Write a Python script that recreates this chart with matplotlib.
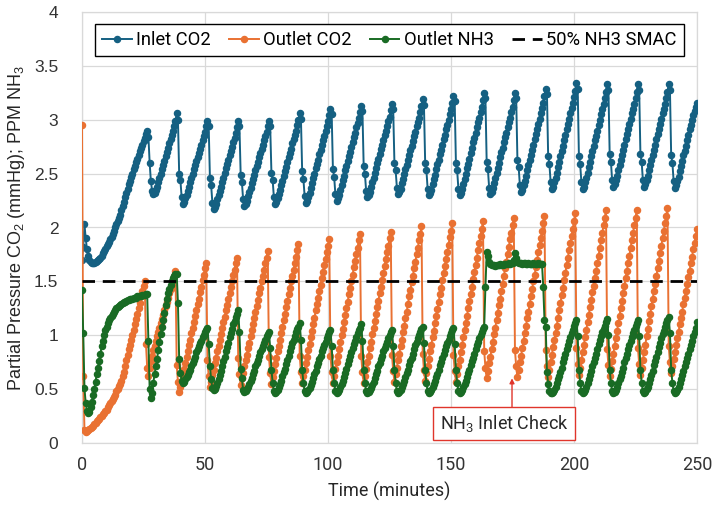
import numpy as np
import matplotlib
matplotlib.use("Agg")
import matplotlib.pyplot as plt
from matplotlib import font_manager

# ---------------- data (sampled every 0.5 minute) ----------------
TIME_STEP_MIN = 0.5

inlet_co2 = [
    1.70, 1.82, 2.03, 1.90, 1.80, 1.74, 1.70, 1.68, 1.67, 1.67,
    1.67, 1.68, 1.69, 1.70, 1.71, 1.72, 1.74, 1.76, 1.78, 1.80,
    1.83, 1.85, 1.87, 1.89, 1.91, 1.94, 1.97, 2.00, 2.03, 2.06,
    2.09, 2.12, 2.16, 2.20, 2.24, 2.28, 2.32, 2.36, 2.40, 2.43,
    2.47, 2.50, 2.54, 2.57, 2.61, 2.64, 2.67, 2.71, 2.74, 2.77,
    2.80, 2.83, 2.87, 2.90,
    2.84, 2.60, 2.43, 2.34, 2.31, 2.32, 2.35, 2.38, 2.42, 2.46, 2.50, 2.54, 2.58, 2.62, 2.66, 2.70, 2.74, 2.78, 2.82, 2.86, 2.90, 2.94, 2.99, 3.06,
    3.00, 2.50, 2.44, 2.28, 2.22, 2.24, 2.27, 2.30, 2.34, 2.38, 2.42, 2.46, 2.50, 2.54, 2.58, 2.62, 2.65, 2.69, 2.73, 2.77, 2.81, 2.85, 2.89, 2.94, 2.99,
    2.94, 2.46, 2.39, 2.23, 2.17, 2.19, 2.22, 2.26, 2.30, 2.34, 2.38, 2.42, 2.46, 2.51, 2.55, 2.59, 2.63, 2.67, 2.71, 2.75, 2.79, 2.83, 2.88, 2.93, 2.99,
    2.94, 2.49, 2.42, 2.26, 2.20, 2.22, 2.25, 2.29, 2.33, 2.37, 2.41, 2.45, 2.49, 2.53, 2.57, 2.61, 2.65, 2.69, 2.73, 2.77, 2.81, 2.85, 2.89, 2.94, 2.99,
    2.94, 2.51, 2.44, 2.28, 2.22, 2.24, 2.27, 2.31, 2.35, 2.39, 2.43, 2.48, 2.52, 2.56, 2.61, 2.65, 2.69, 2.73, 2.78, 2.82, 2.86, 2.90, 2.95, 3.00, 3.06,
    3.01, 2.52, 2.45, 2.29, 2.23, 2.25, 2.28, 2.32, 2.37, 2.41, 2.46, 2.50, 2.55, 2.59, 2.63, 2.68, 2.72, 2.77, 2.81, 2.85, 2.90, 2.94, 2.99, 3.04, 3.10,
    3.05, 2.54, 2.47, 2.31, 2.25, 2.27, 2.30, 2.35, 2.39, 2.44, 2.48, 2.53, 2.57, 2.62, 2.66, 2.70, 2.75, 2.79, 2.84, 2.88, 2.93, 2.97, 3.02, 3.07, 3.13,
    3.08, 2.57, 2.50, 2.34, 2.28, 2.30, 2.33, 2.38, 2.42, 2.46, 2.51, 2.55, 2.60, 2.64, 2.68, 2.73, 2.77, 2.81, 2.86, 2.90, 2.94, 2.99, 3.03, 3.09, 3.15,
    3.10, 2.60, 2.53, 2.37, 2.31, 2.33, 2.36, 2.41, 2.45, 2.50, 2.54, 2.58, 2.63, 2.67, 2.72, 2.76, 2.80, 2.85, 2.89, 2.94, 2.98, 3.02, 3.07, 3.13, 3.19,
    3.14, 2.60, 2.53, 2.36, 2.30, 2.32, 2.35, 2.40, 2.45, 2.49, 2.54, 2.59, 2.63, 2.68, 2.72, 2.77, 2.82, 2.86, 2.91, 2.95, 3.00, 3.05, 3.10, 3.16, 3.22,
    3.17, 2.60, 2.53, 2.36, 2.30, 2.32, 2.36, 2.40, 2.45, 2.50, 2.55, 2.59, 2.64, 2.69, 2.74, 2.79, 2.83, 2.88, 2.93, 2.98, 3.02, 3.07, 3.12, 3.18, 3.25,
    3.20, 2.61, 2.54, 2.37, 2.31, 2.33, 2.37, 2.41, 2.46, 2.51, 2.55, 2.60, 2.65, 2.70, 2.74, 2.79, 2.84, 2.88, 2.93, 2.98, 3.02, 3.07, 3.12, 3.18, 3.25,
    3.20, 2.63, 2.56, 2.39, 2.33, 2.35, 2.39, 2.43, 2.48, 2.53, 2.58, 2.63, 2.67, 2.72, 2.77, 2.82, 2.87, 2.91, 2.96, 3.01, 3.06, 3.11, 3.16, 3.22, 3.29,
    3.24, 2.66, 2.59, 2.42, 2.36, 2.38, 2.42, 2.46, 2.51, 2.56, 2.61, 2.66, 2.71, 2.76, 2.81, 2.86, 2.91, 2.96, 3.01, 3.06, 3.11, 3.16, 3.21, 3.27, 3.34,
    3.29, 2.66, 2.59, 2.42, 2.36, 2.38, 2.42, 2.46, 2.51, 2.56, 2.61, 2.66, 2.71, 2.76, 2.81, 2.85, 2.90, 2.95, 3.00, 3.05, 3.10, 3.15, 3.20, 3.26, 3.33,
    3.28, 2.68, 2.61, 2.44, 2.38, 2.40, 2.44, 2.48, 2.53, 2.58, 2.63, 2.67, 2.72, 2.77, 2.82, 2.87, 2.91, 2.96, 3.01, 3.06, 3.10, 3.15, 3.20, 3.26, 3.33,
    3.28, 2.68, 2.61, 2.44, 2.38, 2.40, 2.44, 2.48, 2.53, 2.58, 2.63, 2.67, 2.72, 2.77, 2.82, 2.87, 2.91, 2.96, 3.01, 3.06, 3.10, 3.15, 3.20, 3.26, 3.33,
    3.28, 2.67, 2.60, 2.43, 2.37, 2.39, 2.43, 2.47, 2.52, 2.57, 2.62, 2.67, 2.71, 2.76, 2.81, 2.86, 2.91, 2.95, 3.00, 3.04, 3.08, 3.12, 3.16,
]

outlet_co2 = [
    2.95, 0.62, 0.12, 0.10, 0.11, 0.12, 0.13, 0.14, 0.15, 0.16,
    0.18, 0.19, 0.20, 0.21, 0.22, 0.24, 0.25, 0.27, 0.28, 0.30,
    0.31, 0.33, 0.35, 0.37, 0.39, 0.41, 0.43, 0.45, 0.48, 0.50,
    0.53, 0.55, 0.58, 0.62, 0.66, 0.71, 0.77, 0.82, 0.87, 0.91,
    0.96, 1.00, 1.05, 1.10, 1.15, 1.20, 1.25, 1.30, 1.36, 1.41,
    1.46, 1.50,
    0.92, 0.70, 0.62, 0.70, 0.76, 0.81, 0.86, 0.90, 0.95, 0.99, 1.03, 1.07, 1.11, 1.15, 1.19, 1.23, 1.27, 1.31, 1.35, 1.39, 1.43, 1.47, 1.51, 1.55, 1.60,
    0.72, 0.57, 0.47, 0.52, 0.58, 0.63, 0.69, 0.74, 0.80, 0.85, 0.91, 0.96, 1.02, 1.07, 1.12, 1.18, 1.23, 1.29, 1.34, 1.40, 1.45, 1.51, 1.56, 1.62, 1.67,
    0.77, 0.62, 0.52, 0.57, 0.63, 0.68, 0.74, 0.79, 0.85, 0.90, 0.96, 1.01, 1.07, 1.12, 1.17, 1.23, 1.28, 1.34, 1.39, 1.45, 1.50, 1.56, 1.61, 1.67, 1.72,
    0.79, 0.64, 0.54, 0.60, 0.65, 0.71, 0.77, 0.82, 0.88, 0.93, 0.99, 1.05, 1.10, 1.16, 1.22, 1.27, 1.33, 1.39, 1.44, 1.50, 1.55, 1.61, 1.67, 1.72, 1.78,
    0.80, 0.65, 0.55, 0.61, 0.67, 0.73, 0.79, 0.85, 0.90, 0.96, 1.02, 1.08, 1.14, 1.20, 1.26, 1.32, 1.38, 1.44, 1.50, 1.55, 1.61, 1.67, 1.73, 1.79, 1.85,
    0.81, 0.66, 0.56, 0.62, 0.68, 0.74, 0.80, 0.86, 0.92, 0.98, 1.04, 1.10, 1.16, 1.23, 1.29, 1.35, 1.41, 1.47, 1.53, 1.59, 1.65, 1.71, 1.77, 1.83, 1.89,
    0.81, 0.66, 0.56, 0.62, 0.69, 0.75, 0.81, 0.87, 0.94, 1.00, 1.06, 1.12, 1.19, 1.25, 1.31, 1.38, 1.44, 1.50, 1.56, 1.63, 1.69, 1.75, 1.81, 1.88, 1.94,
    0.81, 0.66, 0.56, 0.62, 0.69, 0.75, 0.81, 0.88, 0.94, 1.01, 1.07, 1.13, 1.20, 1.26, 1.32, 1.39, 1.45, 1.51, 1.58, 1.64, 1.71, 1.77, 1.83, 1.90, 1.96,
    0.82, 0.67, 0.57, 0.64, 0.70, 0.77, 0.83, 0.90, 0.96, 1.03, 1.09, 1.16, 1.22, 1.29, 1.36, 1.42, 1.49, 1.55, 1.62, 1.68, 1.75, 1.81, 1.88, 1.94, 2.01,
    0.83, 0.68, 0.58, 0.65, 0.71, 0.78, 0.85, 0.91, 0.98, 1.04, 1.11, 1.18, 1.24, 1.31, 1.38, 1.44, 1.51, 1.58, 1.64, 1.71, 1.77, 1.84, 1.91, 1.97, 2.04,
    0.82, 0.67, 0.57, 0.64, 0.71, 0.77, 0.84, 0.91, 0.98, 1.05, 1.11, 1.18, 1.25, 1.32, 1.38, 1.45, 1.52, 1.59, 1.65, 1.72, 1.79, 1.86, 1.92, 1.99, 2.06,
    0.85, 0.70, 0.60, 0.67, 0.74, 0.80, 0.87, 0.94, 1.01, 1.07, 1.14, 1.21, 1.28, 1.34, 1.41, 1.48, 1.55, 1.62, 1.68, 1.75, 1.82, 1.89, 1.95, 2.02, 2.09,
    0.86, 0.71, 0.61, 0.68, 0.75, 0.81, 0.88, 0.95, 1.02, 1.09, 1.16, 1.22, 1.29, 1.36, 1.43, 1.50, 1.56, 1.63, 1.70, 1.77, 1.84, 1.90, 1.97, 2.04, 2.11,
    0.86, 0.71, 0.61, 0.68, 0.75, 0.82, 0.89, 0.96, 1.02, 1.09, 1.16, 1.23, 1.30, 1.37, 1.44, 1.51, 1.58, 1.65, 1.72, 1.79, 1.86, 1.92, 1.99, 2.06, 2.13,
    0.88, 0.73, 0.63, 0.70, 0.77, 0.84, 0.91, 0.98, 1.05, 1.12, 1.19, 1.26, 1.33, 1.40, 1.46, 1.53, 1.60, 1.67, 1.74, 1.81, 1.88, 1.95, 2.02, 2.09, 2.16,
    0.87, 0.72, 0.62, 0.69, 0.76, 0.83, 0.90, 0.97, 1.04, 1.11, 1.18, 1.25, 1.32, 1.39, 1.46, 1.53, 1.60, 1.67, 1.74, 1.81, 1.88, 1.95, 2.02, 2.09, 2.16,
    0.88, 0.73, 0.63, 0.70, 0.77, 0.84, 0.91, 0.99, 1.06, 1.13, 1.20, 1.27, 1.34, 1.41, 1.48, 1.55, 1.62, 1.69, 1.76, 1.83, 1.90, 1.97, 2.04, 2.11, 2.18,
    0.90, 0.75, 0.65, 0.71, 0.78, 0.84, 0.91, 0.97, 1.03, 1.10, 1.16, 1.22, 1.29, 1.35, 1.41, 1.48, 1.54, 1.60, 1.67, 1.73, 1.80, 1.86, 1.92, 1.99,
]

outlet_nh3 = [
    1.42, 1.02, 0.51, 0.37, 0.30, 0.28, 0.29, 0.33, 0.38, 0.45,
    0.50, 0.57, 0.64, 0.70, 0.76, 0.83, 0.90, 0.95, 1.00, 1.05,
    1.08, 1.11, 1.14, 1.16, 1.18, 1.20, 1.22, 1.23, 1.25, 1.26,
    1.27, 1.28, 1.29, 1.30, 1.31, 1.31, 1.32, 1.33, 1.33, 1.34,
    1.34, 1.34, 1.35, 1.35, 1.35, 1.36, 1.36, 1.36, 1.36, 1.37,
    1.37, 1.37, 1.38, 1.38,
    0.95, 0.50, 0.42, 0.46, 0.56, 0.64, 0.71, 0.78, 0.86, 0.94, 1.01, 1.08, 1.14, 1.21, 1.28, 1.34, 1.39, 1.43, 1.47, 1.50, 1.53, 1.55, 1.57, 1.57,
    1.30, 0.78, 0.65, 0.58, 0.56, 0.57, 0.59, 0.61, 0.63, 0.66, 0.68, 0.71, 0.74, 0.77, 0.80, 0.84, 0.87, 0.90, 0.93, 0.95, 0.98, 1.00, 1.03, 1.05, 1.07,
    0.92, 0.71, 0.59, 0.51, 0.49, 0.50, 0.53, 0.56, 0.59, 0.63, 0.67, 0.71, 0.76, 0.80, 0.85, 0.89, 0.93, 0.98, 1.02, 1.06, 1.10, 1.13, 1.17, 1.20, 1.23,
    1.03, 0.69, 0.60, 0.49, 0.47, 0.48, 0.50, 0.52, 0.55, 0.58, 0.60, 0.64, 0.67, 0.71, 0.74, 0.77, 0.81, 0.84, 0.87, 0.90, 0.93, 0.96, 0.99, 1.01, 1.03,
    0.88, 0.68, 0.56, 0.48, 0.46, 0.47, 0.49, 0.52, 0.55, 0.58, 0.62, 0.66, 0.69, 0.73, 0.77, 0.81, 0.85, 0.89, 0.93, 0.96, 0.99, 1.03, 1.06, 1.08, 1.11,
    0.96, 0.68, 0.56, 0.48, 0.46, 0.47, 0.49, 0.51, 0.54, 0.57, 0.60, 0.64, 0.67, 0.71, 0.74, 0.78, 0.81, 0.85, 0.88, 0.91, 0.94, 0.97, 1.00, 1.03, 1.05,
    0.90, 0.68, 0.56, 0.48, 0.46, 0.47, 0.49, 0.52, 0.55, 0.58, 0.61, 0.65, 0.69, 0.73, 0.77, 0.81, 0.84, 0.88, 0.92, 0.95, 0.98, 1.02, 1.05, 1.07, 1.10,
    0.95, 0.68, 0.56, 0.48, 0.46, 0.47, 0.49, 0.51, 0.54, 0.57, 0.60, 0.64, 0.67, 0.71, 0.74, 0.78, 0.81, 0.85, 0.88, 0.91, 0.94, 0.97, 1.00, 1.03, 1.05,
    0.90, 0.68, 0.56, 0.48, 0.46, 0.47, 0.49, 0.52, 0.55, 0.58, 0.61, 0.65, 0.68, 0.72, 0.76, 0.79, 0.83, 0.87, 0.91, 0.94, 0.97, 1.00, 1.03, 1.06, 1.08,
    0.93, 0.68, 0.56, 0.48, 0.46, 0.47, 0.49, 0.52, 0.55, 0.58, 0.61, 0.64, 0.68, 0.72, 0.75, 0.79, 0.83, 0.86, 0.90, 0.93, 0.96, 0.99, 1.02, 1.05, 1.07,
    0.92, 0.68, 0.56, 0.48, 0.46, 0.47, 0.49, 0.52, 0.55, 0.58, 0.61, 0.65, 0.68, 0.72, 0.76, 0.79, 0.83, 0.87, 0.91, 0.94, 0.97, 1.00, 1.03, 1.06, 1.08,
    1.45, 1.77, 1.74, 1.68, 1.66, 1.65, 1.65, 1.65, 1.64, 1.65,
    1.65, 1.65, 1.66, 1.65, 1.65, 1.66, 1.66, 1.66, 1.66, 1.67,
    1.66, 1.67, 1.67, 1.70, 1.76, 1.72, 1.68, 1.67, 1.67, 1.67,
    1.66, 1.67, 1.67, 1.66, 1.66, 1.67, 1.66, 1.66, 1.66, 1.67,
    1.66, 1.66, 1.66, 1.67, 1.66, 1.66, 1.66, 1.45, 1.14, 1.08,
    0.66, 0.55, 0.48, 0.46, 0.46,
    0.47, 0.49, 0.52, 0.56, 0.59, 0.62, 0.66, 0.70, 0.75, 0.79, 0.83, 0.87, 0.91, 0.95, 0.98, 1.02, 1.05, 1.09, 1.11, 1.14,
    0.99, 0.68, 0.56, 0.48, 0.46, 0.47, 0.49, 0.52, 0.56, 0.59, 0.63, 0.67, 0.71, 0.75, 0.79, 0.83, 0.87, 0.92, 0.96, 0.99, 1.03, 1.06, 1.09, 1.12, 1.15,
    1.00, 0.68, 0.56, 0.48, 0.46, 0.47, 0.49, 0.52, 0.56, 0.59, 0.62, 0.66, 0.70, 0.75, 0.79, 0.83, 0.87, 0.91, 0.95, 0.98, 1.02, 1.05, 1.09, 1.11, 1.14,
    0.99, 0.68, 0.56, 0.48, 0.46, 0.47, 0.50, 0.52, 0.56, 0.59, 0.63, 0.67, 0.72, 0.76, 0.80, 0.84, 0.89, 0.93, 0.97, 1.01, 1.04, 1.08, 1.11, 1.14, 1.17,
    1.02, 0.68, 0.56, 0.48, 0.46, 0.47, 0.49, 0.52, 0.56, 0.59, 0.63, 0.67, 0.71, 0.75, 0.79, 0.83, 0.87, 0.91, 0.95, 0.99, 1.03, 1.07, 1.12,
]

smac_level = 1.5
series_names = ["Inlet CO2", "Outlet CO2", "Outlet NH3", "50% NH3 SMAC"]
x_ticks = [0, 50, 100, 150, 200, 250]
y_ticks = [0, 0.5, 1, 1.5, 2, 2.5, 3, 3.5, 4]
y_tick_labels = ["0", "0.5", "1", "1.5", "2", "2.5", "3", "3.5", "4"]
annotation_text = "NH$_3$ Inlet Check"
annotation_target = (174.8, 0.60)

# ---------------- style ----------------
C_BLUE = "#156082"
C_ORANGE = "#E97132"
C_GREEN = "#196B24"
C_RED = "#E0352B"
C_GRID = "#D9D9D9"

avail = {f.name for f in font_manager.fontManager.ttflist}
NARROW = [f for f in ["Liberation Sans Narrow", "Roboto", "DejaVu Sans"] if f in avail] or ["DejaVu Sans"]
ARIAL = [f for f in ["Liberation Sans", "DejaVu Sans"] if f in avail]

plt.rcParams["font.family"] = ARIAL
plt.rcParams["mathtext.fontset"] = "custom"
plt.rcParams["mathtext.rm"] = ARIAL[0]
plt.rcParams["mathtext.it"] = ARIAL[0] + ":italic"

W, H = 714, 514
fig = plt.figure(figsize=(W / 100, H / 100), dpi=100)
ax = fig.add_axes([82 / W, (H - 443) / H, 615 / W, 431 / H])

def tgrid(vals):
    return np.arange(len(vals)) * TIME_STEP_MIN

mk = dict(marker="o", markersize=4.4, linewidth=1.4)
ax.plot(tgrid(inlet_co2), inlet_co2, color=C_BLUE, label=series_names[0], zorder=3, **mk)
ax.plot(tgrid(outlet_co2), outlet_co2, color=C_ORANGE, label=series_names[1], zorder=4, **mk)
ax.plot(tgrid(outlet_nh3), outlet_nh3, color=C_GREEN, label=series_names[2], zorder=5, **mk)
ax.plot([x_ticks[0], x_ticks[-1]], [smac_level, smac_level], color="black",
        linestyle=(0, (4.5, 2.8)), linewidth=2.0, label=series_names[3], zorder=6)

ax.set_xlim(x_ticks[0], x_ticks[-1])
ax.set_ylim(y_ticks[0], y_ticks[-1])
ax.set_xticks(x_ticks)
ax.set_yticks(y_ticks)
ax.set_yticklabels(y_tick_labels)
ax.grid(True, color=C_GRID, linewidth=0.9, zorder=0)
ax.set_axisbelow(True)
for s in ax.spines.values():
    s.set_color(C_GRID)
    s.set_linewidth(0.9)
ax.tick_params(axis="both", length=0, colors="#333333")
ax.tick_params(axis="y", pad=17, labelsize=12.5)
ax.tick_params(axis="x", pad=9, labelsize=13)
for lab in ax.get_xticklabels():
    lab.set_family(NARROW)

ax.set_xlabel("Time (minutes)", fontsize=13, family=NARROW, color="#262626", labelpad=6)
ax.set_ylabel("Partial Pressure CO$_2$ (mmHg); PPM NH$_3$", fontsize=13, color="#262626", labelpad=5)

leg = ax.legend(loc="upper center", bbox_to_anchor=(0.5, 0.973), ncol=4, frameon=True,
                fancybox=False, edgecolor="black", framealpha=1, borderpad=0.4,
                borderaxespad=0.0, handlelength=1.6, handletextpad=0.25, columnspacing=1.0,
                prop={"family": NARROW, "size": 13.2})
leg.get_frame().set_linewidth(1.0)
leg.set_zorder(10)

ax.annotate("", xy=annotation_target, xytext=(annotation_target[0], 0.305),
            arrowprops=dict(arrowstyle="-|>", color=C_RED, lw=1.0, mutation_scale=7,
                            shrinkA=0, shrinkB=0), zorder=8)
ax.text(171.5, 0.18, annotation_text, ha="center", va="center", fontsize=13,
        family=NARROW, color="#262626", zorder=9,
        bbox=dict(boxstyle="square,pad=0.35", fc="white", ec=C_RED, lw=1.0))

fig.savefig("out.png", dpi=100)
